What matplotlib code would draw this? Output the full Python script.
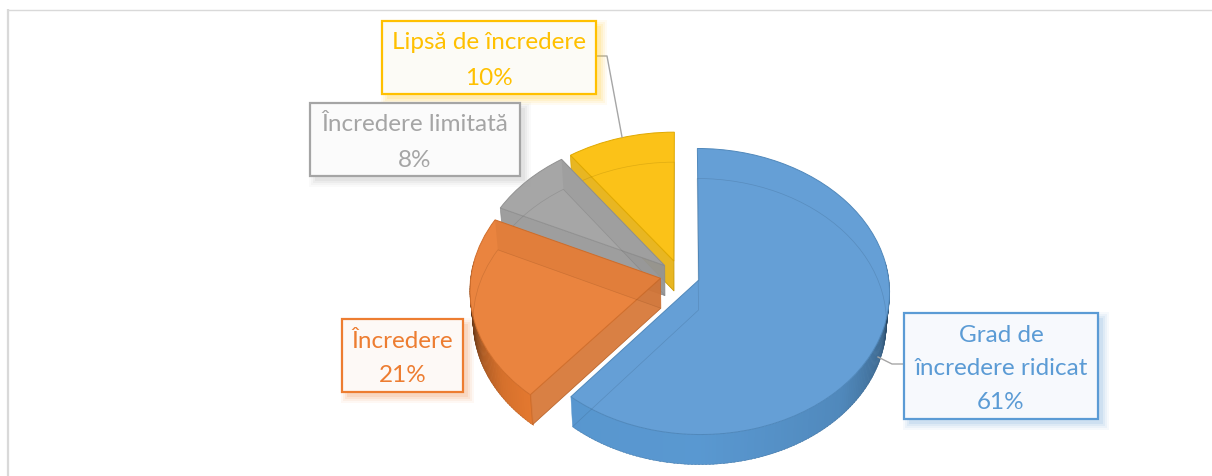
import numpy as np
import matplotlib
matplotlib.use("Agg")
import matplotlib.pyplot as plt
from matplotlib.colors import to_rgb
from matplotlib.patches import Rectangle, Wedge
from matplotlib.transforms import Transform

# ---- data -------------------------------------------------------------
categories = ["Grad de\nîncredere ridicat", "Încredere", "Încredere limitată", "Lipsă de încredere"]
values = [61, 21, 8, 10]
percent_labels = ["61%", "21%", "8%", "10%"]
colors = ["#5B9BD5", "#ED7D31", "#A5A5A5", "#FFC000"]
top_colors = ["#659FD6", "#EA843F", "#A6A6A6", "#FBC218"]
box_fills = ["#F7F9FD", "#FDF9F6", "#FBFBFB", "#FCFBF6"]

plt.rcParams["font.family"] = ["Lato", "DejaVu Sans"]
W, H = 1212, 477
fig = plt.figure(figsize=(W / 100, H / 100), dpi=100, facecolor="white")
ax = fig.add_axes([0, 0, 1, 1])

# ---- perspective of the pie plane --------------------------------------
CX, CY, RX, RY, K, DEPTH = 680, 276, 189.5, 141.3, 0.08, 30


class Persp(Transform):
    input_dims = output_dims = 2
    is_separable = False
    has_inverse = False

    def __init__(self, dy=0.0, sx=1.0):
        super().__init__()
        self.dy, self.sx = dy, sx

    def transform_non_affine(self, xy):
        xy = np.asarray(xy, float).reshape(-1, 2)
        w = 1 + K * xy[:, 1]
        return np.column_stack([CX + self.sx * RX * xy[:, 0] / w,
                                CY + self.dy - RY * xy[:, 1] / w])


top_t = Persp()
bot_t = Persp(DEPTH, 0.985)

wedges, _ = ax.pie(values, explode=[0.105] * 4, startangle=90, counterclock=False,
                   colors=top_colors, radius=1.0, normalize=True)
ax.set_aspect("auto")
ax.set_xlim(0, W)
ax.set_ylim(H, 0)
ax.axis("off")


def mix(c, f):
    c = np.array(to_rgb(c))
    return tuple(c * f)


def pt(center, th):
    return np.array([center[0] + np.cos(np.radians(th)), center[1] + np.sin(np.radians(th))])


def face(pts, color, z, alpha=1.0, lw=0.0, ec="none"):
    pts = np.array(pts)
    p = np.vstack([top_t.transform(pts), bot_t.transform(pts)[::-1]])
    ax.fill(p[:, 0], p[:, 1], fc=color, alpha=alpha, zorder=z, lw=lw, ec=ec, clip_on=False)


def arc_shade(theta, i):
    # brightness of the rim, by math angle normalised to -270..90
    th = ((theta + 270) % 360) - 270
    if i == 0:   # blue: darkens only towards the right hand end
        return np.interp(th, [-130, -90, -45, -20, -5, 10], [0.97, 0.98, 0.88, 0.68, 0.45, 0.30])
    if i == 1:   # orange: nearly black at the far left
        th = th + 360 if th < -180 else th
        return np.interp(th % 360, [180, 192, 205, 218, 230], [0.22, 0.42, 0.74, 0.90, 0.96])
    return 0.75


# paint back to front: yellow, gray, orange, blue
z = 2
for i in [3, 2, 1, 0]:
    wd = wedges[i]
    col, base = top_colors[i], colors[i]
    c, t1, t2 = wd.center, wd.theta1, wd.theta2
    # outer rim, drawn in thin slices
    ths = np.linspace(t1, t2, max(int(t2 - t1), 2) + 1)
    for a, d in zip(ths[:-1], ths[1:]):
        m = (a + d) / 2
        if np.sin(np.radians(m)) < 0.12:
            shade = mix(base, arc_shade(m, i))
            face([pt(c, a), pt(c, d + 0.4)], shade, z, lw=0.3, ec=shade)
    z += 1
    # radial faces that look towards the viewer
    hidden = []
    for th, n in ((t1, t1 - 90), (t2, t2 + 90)):
        s = [tuple(c), pt(c, th)]
        if np.sin(np.radians(n)) < -1e-6:
            face(s, mix(col, 0.92), z, alpha=0.95, lw=0.5, ec=mix(base, 0.85))
        else:
            hidden.append(s)
    z += 1
    # top face: the pie wedge itself
    wd.set_transform(top_t + ax.transData)
    wd.set_edgecolor(mix(base, 0.88))
    wd.set_linewidth(0.7)
    wd.set_zorder(z)
    z += 1
    # radial faces facing away show faintly through the top
    for s in hidden:
        if i != 0:
            face(s, mix(base, 0.72), z, alpha=0.14)
    # hidden bottom edge shows faintly through the top
    ghost = Wedge(c, 1.0, t1, t2, transform=bot_t + ax.transData, fc="none",
                  ec=mix(base, 0.55), lw=0.5, alpha=0.25, zorder=z, clip_on=False)
    ax.add_patch(ghost)
    z += 1

# ---- chart frame -------------------------------------------------------
ax.plot([8, W], [10.5, 10.5], color="#D9D9D9", lw=1.0, zorder=1, solid_capstyle="butt")
ax.plot([8, 8], [10, H], color="#D9D9D9", lw=1.6, zorder=1, solid_capstyle="butt")

# ---- leader lines ------------------------------------------------------
leader = "#A6A6A6"
ax.plot([596, 607, 622], [57, 57, 138], color=leader, lw=1.0, zorder=60)
ax.plot([878, 892, 904], [358, 365, 365], color=leader, lw=1.0, zorder=60)

# ---- label boxes -------------------------------------------------------
boxes = {0: (904, 314, 1098, 420), 1: (342, 320, 463, 393),
         2: (310, 104, 520, 177), 3: (382, 22, 596, 95)}
spacing = {0: 1.72, 1: 1.75, 2: 1.9, 3: 1.85}
for i, (x0, y0, x1, y1) in boxes.items():
    for grow, a in [(6, 0.05), (4, 0.07), (2, 0.09), (0, 0.12)]:
        ax.add_patch(Rectangle((x0 + 5 - grow, y0 + 5 - grow), x1 - x0 + 2 * grow, y1 - y0 + 2 * grow,
                               fc=colors[i], ec="none", alpha=a, zorder=70))
    ax.add_patch(Rectangle((x0, y0), x1 - x0, y1 - y0, fc=box_fills[i], ec=colors[i], lw=1.6, zorder=71))
    ax.text((x0 + x1) / 2, (y0 + y1) / 2 + 2, categories[i] + "\n" + percent_labels[i],
            ha="center", va="center", color=colors[i], fontsize=17.5, linespacing=spacing[i], zorder=72)

fig.savefig("out.png", dpi=100, facecolor="white")
